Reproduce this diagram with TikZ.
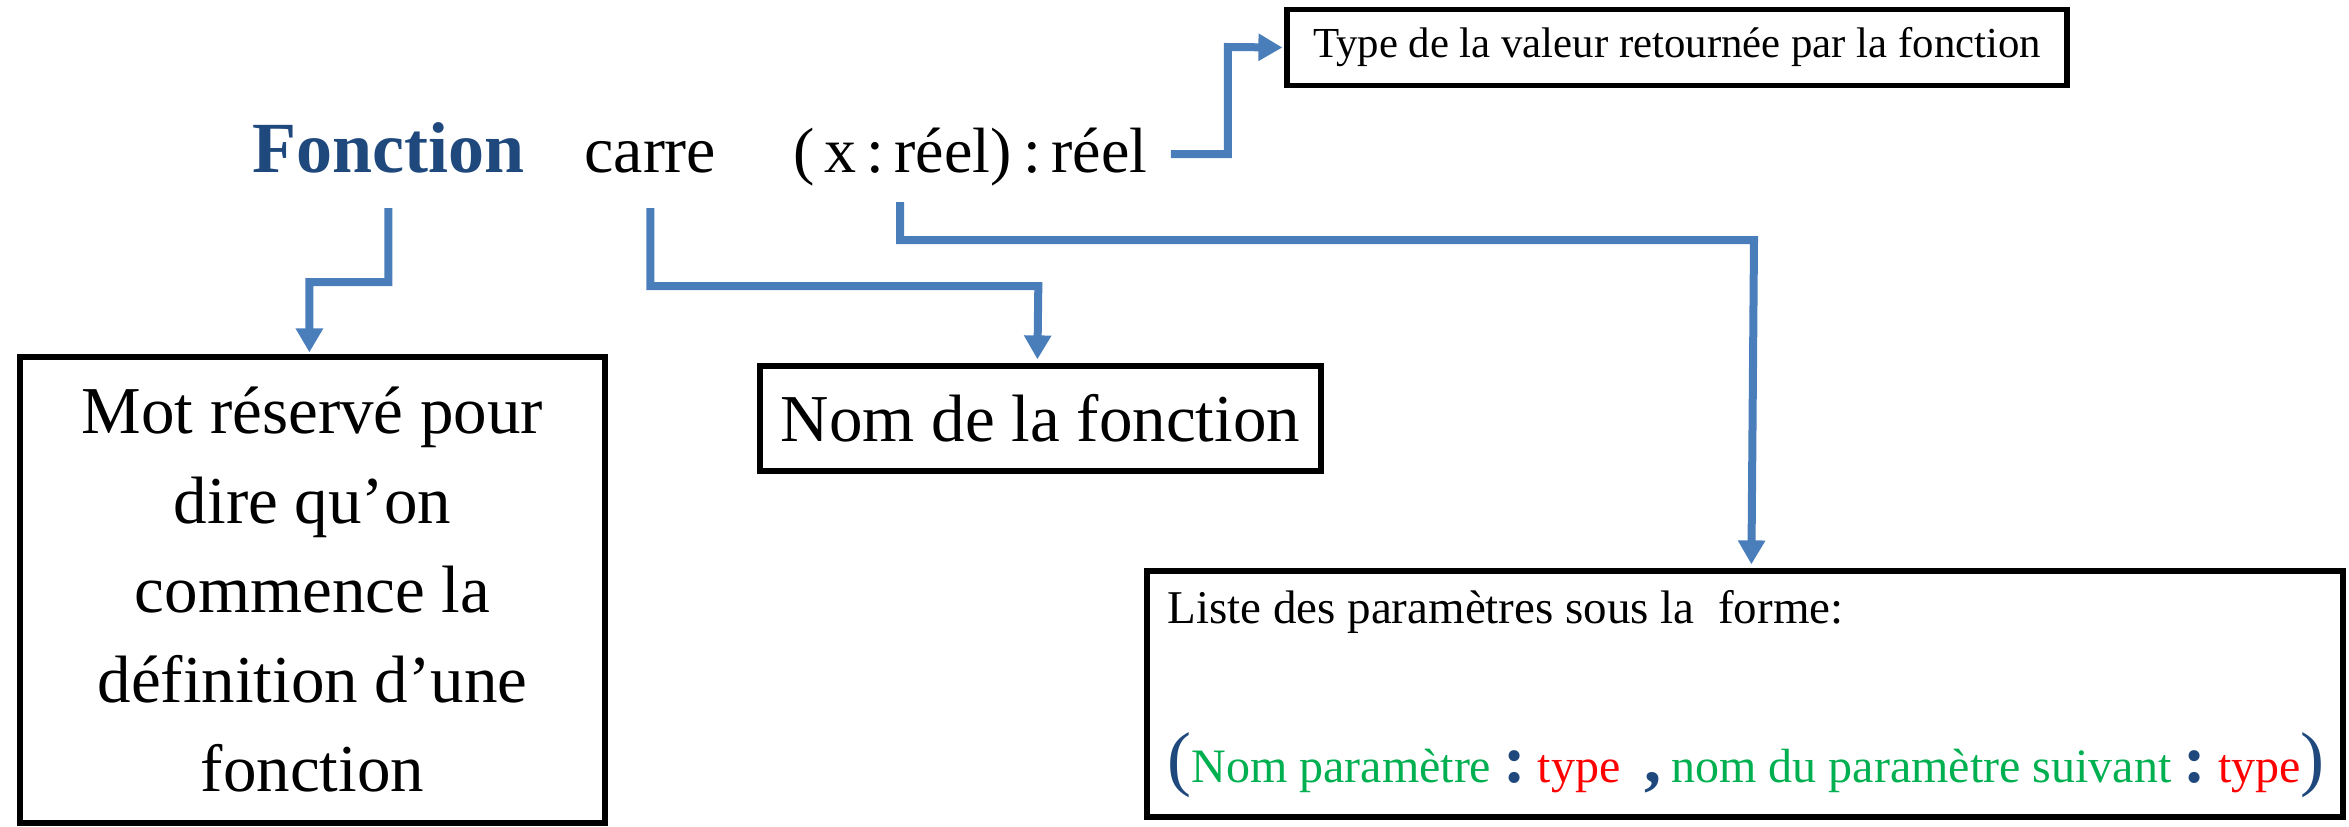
\documentclass[tikz,border=0pt]{standalone}
\usepackage{fontspec}
\setmainfont{Liberation Serif}
\usetikzlibrary{arrows.meta,calc}
\definecolor{linkblue}{RGB}{74,126,187}
\definecolor{kwblue}{RGB}{31,73,125}
\definecolor{pgreen}{RGB}{0,176,80}
\definecolor{pred}{RGB}{255,0,0}
\begin{document}
\begin{tikzpicture}[x=0.5pt,y=-0.5pt,
  conn/.style={draw=linkblue,line width=4pt,-{Triangle[length=12pt,width=13pt]}},
  box/.style={draw=black,line width=2.6pt,inner sep=0pt},
  word/.style={anchor=base west,inner sep=0pt},
  bigfont/.style={font=\fontsize{33.5}{44.75}\selectfont},
]
\useasboundingbox (0,0) rectangle (2349,826);

% header line
\node[word,text=kwblue,font=\fontsize{36}{40}\selectfont\bfseries] (fonction) at (252,172) {Fonction};
\node[word,font=\fontsize{33}{38}\selectfont] (carre) at (584,172) {carre};
\node[word,font=\fontsize{32}{38}\selectfont] (params) at (793,172)
  {(\hspace{5pt}x\hspace{5pt}:\hspace{5pt}réel)\hspace{6pt}:\hspace{5pt}réel};

% boxes
\node[box,minimum width=390pt,minimum height=38pt,font=\fontsize{21.4}{26}\selectfont] (tbox) at (1677,47.5)
  {Type de la valeur retournée par la fonction};
\node[box,bigfont,minimum width=292.5pt,minimum height=233pt,align=center] (lbox) at (312.5,590)
  {Mot réservé pour\\dire qu’on\\commence la\\définition d’une\\fonction};
\node[box,bigfont,minimum width=280.5pt,minimum height=52.5pt] (nbox) at (1040.5,418.5)
  {Nom de la fonction};
\node[box,minimum width=598pt,minimum height=123pt] (pbox) at (1745,694) {};

\node[word,font=\fontsize{23.5}{28}\selectfont] (liste) at (1167,623)
  {Liste des paramètres sous la\ \ forme:};
\node[word,font=\fontsize{24}{28}\selectfont] (forme) at (1167,782)
  {\textcolor{kwblue}{\fontsize{36}{40}\selectfont(}\textcolor{pgreen}{Nom paramètre}\hspace{6pt}\textcolor{kwblue}{\fontsize{34}{38}\selectfont\bfseries:}\hspace{6pt}\textcolor{pred}{type}\hspace{12pt}\textcolor{kwblue}{\fontsize{34}{38}\selectfont\bfseries,}\hspace{5pt}\textcolor{pgreen}{nom du paramètre suivant}\hspace{6pt}\textcolor{kwblue}{\fontsize{34}{38}\selectfont\bfseries:}\hspace{6pt}\textcolor{pred}{type}\textcolor{kwblue}{\fontsize{36}{40}\selectfont)}};

% connectors
\coordinate (f1) at ($(fonction.base)+(0,36)$);
\draw[conn] (f1) -- ++(0,74) -- ++(-79,0) -- ($(lbox.north west)+(292,-2)$);
\coordinate (c1) at ($(carre.base)+(0,36)$);
\draw[conn] (c1) -- ++(0,78) -- ++(388,0) -- ($(nbox.north west)+(280,-4)$);
\coordinate (x1) at ($(params.base west)+(107,30)$);
\draw[conn] (x1) -- ++(0,38) -- ++(854,0) -- ($(pbox.north west)+(607,-4)$);
\coordinate (r1) at ($(params.base east)+(23,-18)$);
\draw[conn] (r1) -- ++(57,0) -- ++(0,-107) -- ($(tbox.west)+(-2,0)$);
\end{tikzpicture}
\end{document}
